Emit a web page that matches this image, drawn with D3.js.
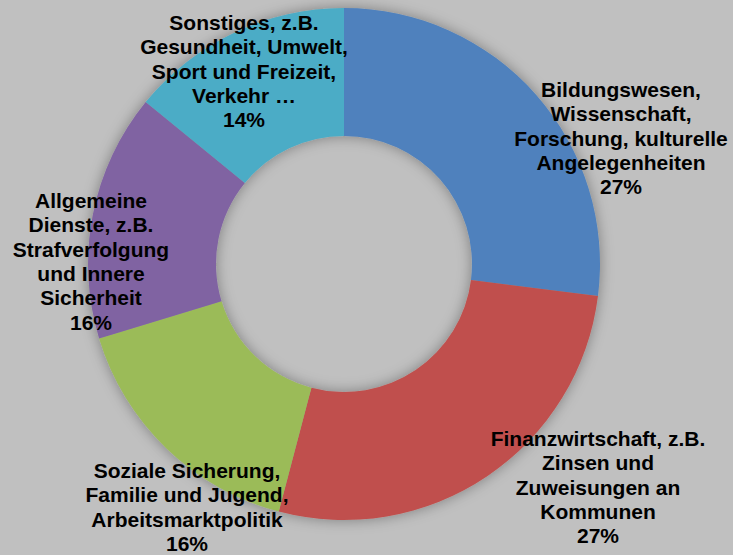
<!DOCTYPE html>
<html>
<head>
<meta charset="utf-8">
<script src="https://cdn.jsdelivr.net/npm/d3@7"></script>
<style>
  html, body { margin: 0; padding: 0; background: #c0c0c0; }
  svg { display: block; }
</style>
</head>
<body>
<svg id="chart" width="733" height="555"></svg>
<script>
// ---- data ----
const categories = [
  ["Bildungswesen,", "Wissenschaft,", "Forschung, kulturelle", "Angelegenheiten"],
  ["Finanzwirtschaft, z.B.", "Zinsen und", "Zuweisungen an", "Kommunen"],
  ["Soziale Sicherung,", "Familie und Jugend,", "Arbeitsmarktpolitik"],
  ["Allgemeine", "Dienste, z.B.", "Strafverfolgung", "und Innere", "Sicherheit"],
  ["Sonstiges, z.B.", "Gesundheit, Umwelt,", "Sport und Freizeit,", "Verkehr \u2026"]
];
const values = [27.0, 27.1, 16.2, 15.6, 14.1];
const colors = ["#4f81bd", "#c0504d", "#9bbb59", "#8064a2", "#4bacc6"];

// ---- layout (label anchors: centre x, first baseline y) ----
const labelLayout = [
  { x: 621, y: 97 },
  { x: 598, y: 446 },
  { x: 187, y: 478 },
  { x: 91,  y: 208 },
  { x: 244, y: 30 }
];
const cx = 344, cy = 264, rOuter = 256, rInner = 128;
const lineH = 24.3;

const svg = d3.select("#chart");
svg.append("rect").attr("width", 733).attr("height", 555).attr("fill", "#c0c0c0");

const defs = svg.append("defs");
const f = defs.append("filter").attr("id", "shadow")
  .attr("x", "-20%").attr("y", "-20%").attr("width", "140%").attr("height", "140%");
f.append("feDropShadow").attr("dx", 0).attr("dy", 0)
  .attr("stdDeviation", 7).attr("flood-color", "#000").attr("flood-opacity", 0.35);

const total = d3.sum(values);
const pie = d3.pie().sort(null).value(d => d)(values);
const arc = d3.arc().innerRadius(rInner).outerRadius(rOuter);

const g = svg.append("g").attr("transform", `translate(${cx},${cy})`)
  .attr("filter", "url(#shadow)");
g.selectAll("path").data(pie).join("path")
  .attr("d", arc)
  .attr("fill", (d, i) => colors[i]);

const pct = d3.format(".0%");
const labels = svg.append("g")
  .attr("font-family", "'Liberation Sans', Arial, sans-serif")
  .attr("font-weight", "bold")
  .attr("font-size", "21px")
  .attr("fill", "#000")
  .attr("text-anchor", "middle");

categories.forEach((lines, i) => {
  const all = lines.concat([pct(values[i] / total)]);
  const t = labels.append("text");
  all.forEach((ln, j) => {
    t.append("tspan")
      .attr("x", labelLayout[i].x)
      .attr("y", labelLayout[i].y + j * lineH)
      .text(ln);
  });
});
</script>
</body>
</html>
